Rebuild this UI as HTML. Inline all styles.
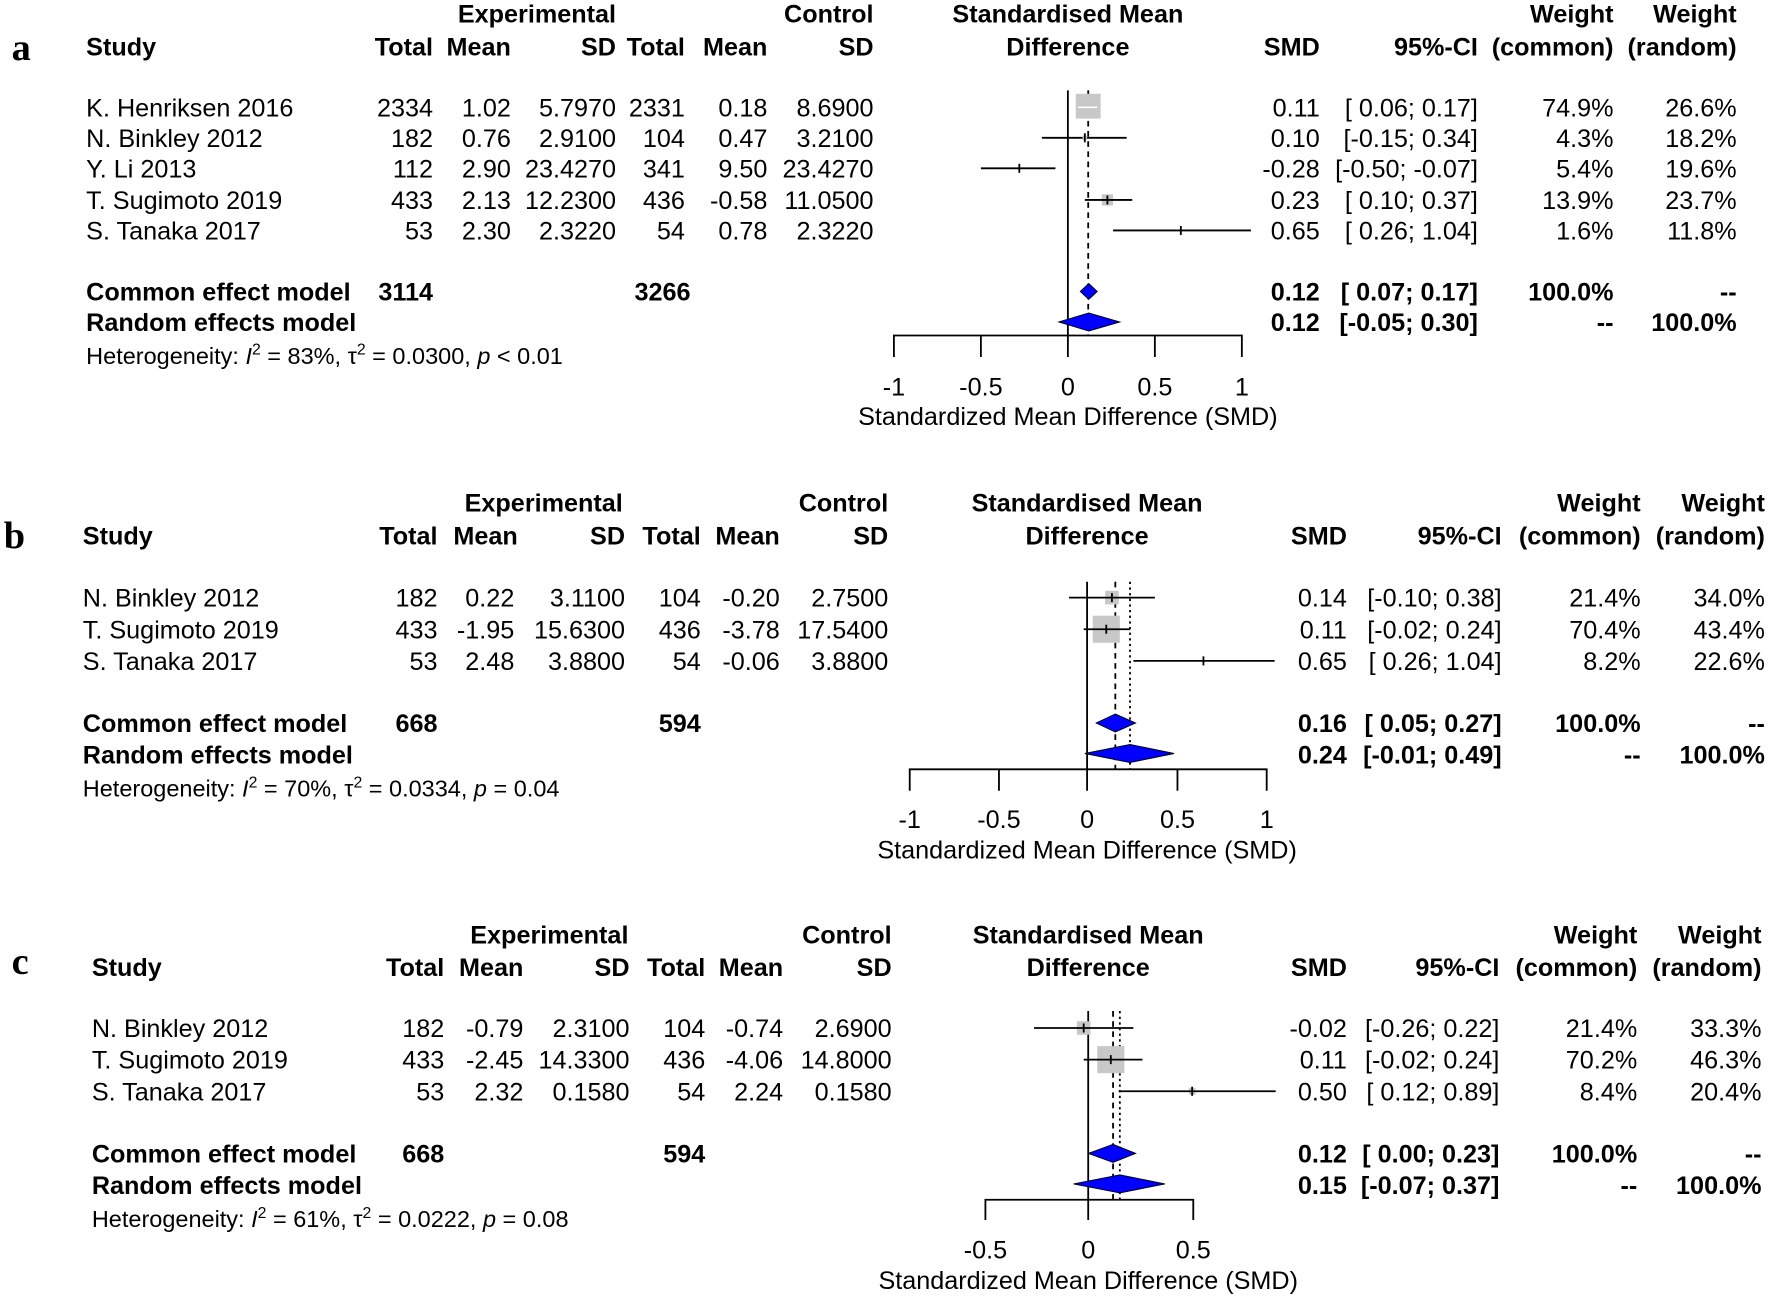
<!DOCTYPE html>
<html><head><meta charset="utf-8"><style>
html,body{margin:0;padding:0;background:#fff;}
svg{display:block;}
text{font-family:"Liberation Sans",Arial,sans-serif;font-size:22.3px;fill:#000;}
.b{font-weight:bold;}
.e{text-anchor:end;}
.m{text-anchor:middle;}
.h{font-size:20.8px;}
.lab{font-family:"Liberation Serif",serif;font-weight:bold;font-size:34px;}
.ci{stroke:#000;stroke-width:1.6;}
.sq{fill:#c8c8c8;}
.dm{fill:#0000ff;stroke:#000;stroke-width:0.8;}
.ax{stroke:#000;stroke-width:1.6;fill:none;}
</style></head><body>
<svg width="1772" height="1298" viewBox="0 0 1568 1149" xmlns="http://www.w3.org/2000/svg">

<!-- ============ PANEL A ============ -->
<text class="lab" x="10" y="53">a</text>
<g class="b">
<text class="m" x="475" y="20">Experimental</text>
<text class="e" x="773" y="20">Control</text>
<text class="m" x="945" y="20">Standardised Mean</text>
<text class="e" x="1428" y="20">Weight</text>
<text class="e" x="1537" y="20">Weight</text>
<text x="76" y="49">Study</text>
<text class="e" x="383" y="49">Total</text>
<text class="e" x="452" y="49">Mean</text>
<text class="e" x="545" y="49">SD</text>
<text class="e" x="606" y="49">Total</text>
<text class="e" x="679" y="49">Mean</text>
<text class="e" x="773" y="49">SD</text>
<text class="m" x="945" y="49">Difference</text>
<text class="e" x="1168" y="49">SMD</text>
<text class="e" x="1308" y="49">95%-CI</text>
<text class="e" x="1428" y="49">(common)</text>
<text class="e" x="1537" y="49">(random)</text>
</g>
<g>
<text x="76" y="103">K. Henriksen 2016</text><text class="e" x="383" y="103">2334</text><text class="e" x="452" y="103">1.02</text><text class="e" x="545" y="103">5.7970</text><text class="e" x="606" y="103">2331</text><text class="e" x="679" y="103">0.18</text><text class="e" x="773" y="103">8.6900</text>
<text class="e" x="1168" y="103">0.11</text><text class="e" x="1308" y="103">[ 0.06;  0.17]</text><text class="e" x="1428" y="103">74.9%</text><text class="e" x="1537" y="103">26.6%</text>
<text x="76" y="130">N. Binkley 2012</text><text class="e" x="383" y="130">182</text><text class="e" x="452" y="130">0.76</text><text class="e" x="545" y="130">2.9100</text><text class="e" x="606" y="130">104</text><text class="e" x="679" y="130">0.47</text><text class="e" x="773" y="130">3.2100</text>
<text class="e" x="1168" y="130">0.10</text><text class="e" x="1308" y="130">[-0.15;  0.34]</text><text class="e" x="1428" y="130">4.3%</text><text class="e" x="1537" y="130">18.2%</text>
<text x="76" y="157">Y. Li 2013</text><text class="e" x="383" y="157">112</text><text class="e" x="452" y="157">2.90</text><text class="e" x="545" y="157">23.4270</text><text class="e" x="606" y="157">341</text><text class="e" x="679" y="157">9.50</text><text class="e" x="773" y="157">23.4270</text>
<text class="e" x="1168" y="157">-0.28</text><text class="e" x="1308" y="157">[-0.50; -0.07]</text><text class="e" x="1428" y="157">5.4%</text><text class="e" x="1537" y="157">19.6%</text>
<text x="76" y="185">T. Sugimoto 2019</text><text class="e" x="383" y="185">433</text><text class="e" x="452" y="185">2.13</text><text class="e" x="545" y="185">12.2300</text><text class="e" x="606" y="185">436</text><text class="e" x="679" y="185">-0.58</text><text class="e" x="773" y="185">11.0500</text>
<text class="e" x="1168" y="185">0.23</text><text class="e" x="1308" y="185">[ 0.10;  0.37]</text><text class="e" x="1428" y="185">13.9%</text><text class="e" x="1537" y="185">23.7%</text>
<text x="76" y="212">S. Tanaka 2017</text><text class="e" x="383" y="212">53</text><text class="e" x="452" y="212">2.30</text><text class="e" x="545" y="212">2.3220</text><text class="e" x="606" y="212">54</text><text class="e" x="679" y="212">0.78</text><text class="e" x="773" y="212">2.3220</text>
<text class="e" x="1168" y="212">0.65</text><text class="e" x="1308" y="212">[ 0.26;  1.04]</text><text class="e" x="1428" y="212">1.6%</text><text class="e" x="1537" y="212">11.8%</text>
</g>
<g class="b">
<text x="76" y="266">Common effect model</text><text class="e" x="383" y="266">3114</text><text class="e" x="611" y="266">3266</text>
<text class="e" x="1168" y="266">0.12</text><text class="e" x="1308" y="266">[ 0.07;  0.17]</text><text class="e" x="1428" y="266">100.0%</text><text class="e" x="1537" y="266">--</text>
<text x="76" y="293">Random effects model</text>
<text class="e" x="1168" y="293">0.12</text><text class="e" x="1308" y="293">[-0.05;  0.30]</text><text class="e" x="1428" y="293">--</text><text class="e" x="1537" y="293">100.0%</text>
</g>
<text class="h" x="76" y="322">Heterogeneity: <tspan font-style="italic">I</tspan><tspan dy="-8" font-size="14">2</tspan><tspan dy="8"> = 83%, τ</tspan><tspan dy="-8" font-size="14">2</tspan><tspan dy="8"> = 0.0300, </tspan><tspan font-style="italic">p</tspan> &lt; 0.01</text>
<!-- plot a -->
<line class="ax" x1="945" y1="80" x2="945" y2="297"/>
<line class="ax" x1="963" y1="80" x2="963" y2="297" stroke-dasharray="5,4" stroke-width="1.2"/>
<rect class="sq" x="952" y="83" width="22" height="22"/><line x1="954" y1="95" x2="971" y2="95" stroke="#fff" stroke-width="1.5"/>
<line class="ci" x1="922" y1="122" x2="997" y2="122"/><rect class="sq" x="958" y="120" width="4" height="4"/><line class="ci" x1="960" y1="118" x2="960" y2="126"/>
<line class="ci" x1="868" y1="149" x2="934" y2="149"/><line class="ci" x1="902" y1="145" x2="902" y2="153"/>
<rect class="sq" x="975" y="172" width="10" height="10"/><line class="ci" x1="960" y1="177" x2="1002" y2="177"/><line class="ci" x1="980" y1="173" x2="980" y2="181"/>
<line class="ci" x1="985" y1="204" x2="1107" y2="204"/><line class="ci" x1="1045" y1="200" x2="1045" y2="208"/>
<polygon class="dm" points="956,258 963.5,251 971,258 963.5,265"/>
<polygon class="dm" points="937,285 963.5,277 991,285 963.5,293"/>
<path class="ax" d="M791,316V297H1099V316M868,297V316M945,297V316M1022,297V316"/>
<text class="m" x="791" y="350">-1</text><text class="m" x="868" y="350">-0.5</text><text class="m" x="945" y="350">0</text><text class="m" x="1022" y="350">0.5</text><text class="m" x="1099" y="350">1</text>
<text class="m" x="945" y="376">Standardized Mean Difference (SMD)</text>

<!-- ============ PANEL B ============ -->
<text class="lab" x="3" y="485">b</text>
<g class="b">
<text class="m" x="481" y="453">Experimental</text>
<text class="e" x="786" y="453">Control</text>
<text class="m" x="962" y="453">Standardised Mean</text>
<text class="e" x="1452" y="453">Weight</text>
<text class="e" x="1562" y="453">Weight</text>
<text x="73" y="482">Study</text>
<text class="e" x="387" y="482">Total</text>
<text class="e" x="458" y="482">Mean</text>
<text class="e" x="553" y="482">SD</text>
<text class="e" x="620" y="482">Total</text>
<text class="e" x="690" y="482">Mean</text>
<text class="e" x="786" y="482">SD</text>
<text class="m" x="962" y="482">Difference</text>
<text class="e" x="1192" y="482">SMD</text>
<text class="e" x="1329" y="482">95%-CI</text>
<text class="e" x="1452" y="482">(common)</text>
<text class="e" x="1562" y="482">(random)</text>
</g>
<g>
<text x="73" y="537">N. Binkley 2012</text><text class="e" x="387" y="537">182</text><text class="e" x="455" y="537">0.22</text><text class="e" x="553" y="537">3.1100</text><text class="e" x="620" y="537">104</text><text class="e" x="690" y="537">-0.20</text><text class="e" x="786" y="537">2.7500</text>
<text class="e" x="1192" y="537">0.14</text><text class="e" x="1329" y="537">[-0.10; 0.38]</text><text class="e" x="1452" y="537">21.4%</text><text class="e" x="1562" y="537">34.0%</text>
<text x="73" y="565">T. Sugimoto 2019</text><text class="e" x="387" y="565">433</text><text class="e" x="455" y="565">-1.95</text><text class="e" x="553" y="565">15.6300</text><text class="e" x="620" y="565">436</text><text class="e" x="690" y="565">-3.78</text><text class="e" x="786" y="565">17.5400</text>
<text class="e" x="1192" y="565">0.11</text><text class="e" x="1329" y="565">[-0.02; 0.24]</text><text class="e" x="1452" y="565">70.4%</text><text class="e" x="1562" y="565">43.4%</text>
<text x="73" y="593">S. Tanaka 2017</text><text class="e" x="387" y="593">53</text><text class="e" x="455" y="593">2.48</text><text class="e" x="553" y="593">3.8800</text><text class="e" x="620" y="593">54</text><text class="e" x="690" y="593">-0.06</text><text class="e" x="786" y="593">3.8800</text>
<text class="e" x="1192" y="593">0.65</text><text class="e" x="1329" y="593">[ 0.26; 1.04]</text><text class="e" x="1452" y="593">8.2%</text><text class="e" x="1562" y="593">22.6%</text>
</g>
<g class="b">
<text x="73" y="648">Common effect model</text><text class="e" x="387" y="648">668</text><text class="e" x="620" y="648">594</text>
<text class="e" x="1192" y="648">0.16</text><text class="e" x="1329" y="648">[ 0.05; 0.27]</text><text class="e" x="1452" y="648">100.0%</text><text class="e" x="1562" y="648">--</text>
<text x="73" y="676">Random effects model</text>
<text class="e" x="1192" y="676">0.24</text><text class="e" x="1329" y="676">[-0.01; 0.49]</text><text class="e" x="1452" y="676">--</text><text class="e" x="1562" y="676">100.0%</text>
</g>
<text class="h" x="73" y="705">Heterogeneity: <tspan font-style="italic">I</tspan><tspan dy="-8" font-size="14">2</tspan><tspan dy="8"> = 70%, τ</tspan><tspan dy="-8" font-size="14">2</tspan><tspan dy="8"> = 0.0334, </tspan><tspan font-style="italic">p</tspan> = 0.04</text>
<!-- plot b -->
<line class="ax" x1="962" y1="515" x2="962" y2="681"/>
<line class="ax" x1="987" y1="515" x2="987" y2="681" stroke-dasharray="5,4" stroke-width="1.2"/>
<line class="ax" x1="1000" y1="515" x2="1000" y2="681" stroke-dasharray="2,3" stroke-width="1.2"/>
<rect class="sq" x="978" y="523" width="12" height="12"/><line class="ci" x1="946" y1="529" x2="1022" y2="529"/><line class="ci" x1="984" y1="525" x2="984" y2="533"/>
<rect class="sq" x="967" y="545" width="24" height="24"/><line class="ci" x1="959" y1="557" x2="1000" y2="557"/><line class="ci" x1="979" y1="553" x2="979" y2="561"/>
<line class="ci" x1="1003" y1="585" x2="1128" y2="585"/><line class="ci" x1="1065" y1="581" x2="1065" y2="589"/>
<polygon class="dm" points="970,640 987,632 1005,640 987,648"/>
<polygon class="dm" points="960,667 1000,659 1039,667 1000,675"/>
<path class="ax" d="M805,700V681H1121V700M884,681V700M962,681V700M1042,681V700"/>
<text class="m" x="805" y="733">-1</text><text class="m" x="884" y="733">-0.5</text><text class="m" x="962" y="733">0</text><text class="m" x="1042" y="733">0.5</text><text class="m" x="1121" y="733">1</text>
<text class="m" x="962" y="760">Standardized Mean Difference (SMD)</text>

<!-- ============ PANEL C ============ -->
<text class="lab" x="10" y="862">c</text>
<g class="b">
<text class="m" x="486" y="835">Experimental</text>
<text class="e" x="789" y="835">Control</text>
<text class="m" x="963" y="835">Standardised Mean</text>
<text class="e" x="1449" y="835">Weight</text>
<text class="e" x="1559" y="835">Weight</text>
<text x="81" y="864">Study</text>
<text class="e" x="393" y="864">Total</text>
<text class="e" x="463" y="864">Mean</text>
<text class="e" x="557" y="864">SD</text>
<text class="e" x="624" y="864">Total</text>
<text class="e" x="693" y="864">Mean</text>
<text class="e" x="789" y="864">SD</text>
<text class="m" x="963" y="864">Difference</text>
<text class="e" x="1192" y="864">SMD</text>
<text class="e" x="1327" y="864">95%-CI</text>
<text class="e" x="1449" y="864">(common)</text>
<text class="e" x="1559" y="864">(random)</text>
</g>
<g>
<text x="81" y="918">N. Binkley 2012</text><text class="e" x="393" y="918">182</text><text class="e" x="463" y="918">-0.79</text><text class="e" x="557" y="918">2.3100</text><text class="e" x="624" y="918">104</text><text class="e" x="693" y="918">-0.74</text><text class="e" x="789" y="918">2.6900</text>
<text class="e" x="1192" y="918">-0.02</text><text class="e" x="1327" y="918">[-0.26; 0.22]</text><text class="e" x="1449" y="918">21.4%</text><text class="e" x="1559" y="918">33.3%</text>
<text x="81" y="946">T. Sugimoto 2019</text><text class="e" x="393" y="946">433</text><text class="e" x="463" y="946">-2.45</text><text class="e" x="557" y="946">14.3300</text><text class="e" x="624" y="946">436</text><text class="e" x="693" y="946">-4.06</text><text class="e" x="789" y="946">14.8000</text>
<text class="e" x="1192" y="946">0.11</text><text class="e" x="1327" y="946">[-0.02; 0.24]</text><text class="e" x="1449" y="946">70.2%</text><text class="e" x="1559" y="946">46.3%</text>
<text x="81" y="974">S. Tanaka 2017</text><text class="e" x="393" y="974">53</text><text class="e" x="463" y="974">2.32</text><text class="e" x="557" y="974">0.1580</text><text class="e" x="624" y="974">54</text><text class="e" x="693" y="974">2.24</text><text class="e" x="789" y="974">0.1580</text>
<text class="e" x="1192" y="974">0.50</text><text class="e" x="1327" y="974">[ 0.12; 0.89]</text><text class="e" x="1449" y="974">8.4%</text><text class="e" x="1559" y="974">20.4%</text>
</g>
<g class="b">
<text x="81" y="1029">Common effect model</text><text class="e" x="393" y="1029">668</text><text class="e" x="624" y="1029">594</text>
<text class="e" x="1192" y="1029">0.12</text><text class="e" x="1327" y="1029">[ 0.00; 0.23]</text><text class="e" x="1449" y="1029">100.0%</text><text class="e" x="1559" y="1029">--</text>
<text x="81" y="1057">Random effects model</text>
<text class="e" x="1192" y="1057">0.15</text><text class="e" x="1327" y="1057">[-0.07; 0.37]</text><text class="e" x="1449" y="1057">--</text><text class="e" x="1559" y="1057">100.0%</text>
</g>
<text class="h" x="81" y="1086">Heterogeneity: <tspan font-style="italic">I</tspan><tspan dy="-8" font-size="14">2</tspan><tspan dy="8"> = 61%, τ</tspan><tspan dy="-8" font-size="14">2</tspan><tspan dy="8"> = 0.0222, </tspan><tspan font-style="italic">p</tspan> = 0.08</text>
<!-- plot c -->
<line class="ax" x1="963" y1="895" x2="963" y2="1062"/>
<line class="ax" x1="985" y1="895" x2="985" y2="1062" stroke-dasharray="5,4" stroke-width="1.2"/>
<line class="ax" x1="991" y1="895" x2="991" y2="1062" stroke-dasharray="2,3" stroke-width="1.2"/>
<rect class="sq" x="953" y="904" width="12" height="12"/><line class="ci" x1="915" y1="910" x2="1003" y2="910"/><line class="ci" x1="959" y1="906" x2="959" y2="914"/>
<rect class="sq" x="971" y="926" width="24" height="24"/><line class="ci" x1="959" y1="938" x2="1011" y2="938"/><line class="ci" x1="983" y1="934" x2="983" y2="942"/>
<rect class="sq" x="1052" y="963" width="6" height="6"/><line class="ci" x1="990" y1="966" x2="1129" y2="966"/><line class="ci" x1="1055" y1="962" x2="1055" y2="970"/>
<polygon class="dm" points="963,1021 985,1013 1005,1021 985,1029"/>
<polygon class="dm" points="950,1048 991,1040 1031,1048 991,1056"/>
<path class="ax" d="M872,1080V1062H1056V1080M963,1062V1080"/>
<text class="m" x="872" y="1114">-0.5</text><text class="m" x="963" y="1114">0</text><text class="m" x="1056" y="1114">0.5</text>
<text class="m" x="963" y="1141">Standardized Mean Difference (SMD)</text>
</svg>
</body></html>
